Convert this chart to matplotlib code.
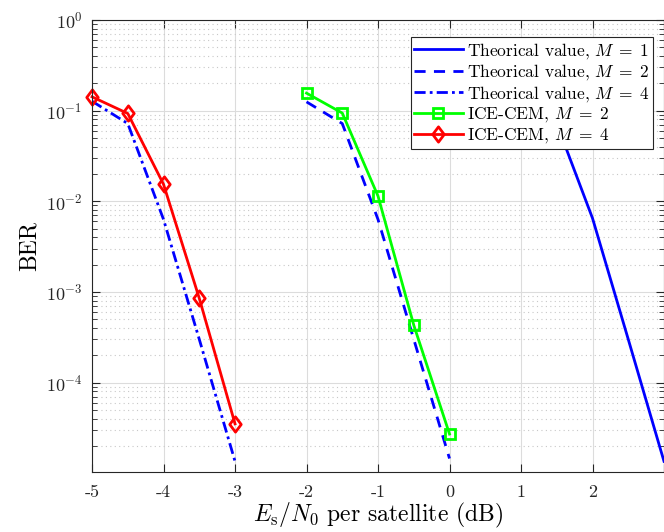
import numpy as np
import matplotlib
matplotlib.use("Agg")
import matplotlib.pyplot as plt
from matplotlib.path import Path
from matplotlib.ticker import LogLocator, NullFormatter

plt.rcParams["font.family"] = "serif"
plt.rcParams["font.serif"] = ["cmr10"]
plt.rcParams["mathtext.fontset"] = "cm"
plt.rcParams["axes.unicode_minus"] = False
plt.rcParams["axes.formatter.use_mathtext"] = True

# Es/N0 per satellite (dB) for each curve
snr_m1 = [1.0, 1.5, 2.0, 2.5, 3.0]
snr_m2 = [-2.0, -1.5, -1.0, -0.5, 0.0]
snr_m4 = [-5.0, -4.5, -4.0, -3.5, -3.0]

# theoretical BER curves
ber_theory_m1 = [0.125, 0.072, 0.0065, 3.0e-4, 1.35e-5]
ber_theory_m2 = [0.125, 0.072, 0.0063, 3.0e-4, 1.45e-5]
ber_theory_m4 = [0.127, 0.072, 0.0063, 3.0e-4, 1.35e-5]

# simulated BER, ICE-CEM
ber_ice_m2 = [0.156, 0.094, 0.0114, 4.3e-4, 2.7e-5]
ber_ice_m4 = [0.142, 0.093, 0.0154, 8.5e-4, 3.5e-5]

xticks = [-5, -4, -3, -2, -1, 0, 1, 2, 3]
xticklabels = ["-5", "-4", "-3", "-2", "-1", "0", "1", "2", ""]

# slightly tall diamond, like MATLAB's
diamond = Path([(0, 1), (0.75, 0), (0, -1), (-0.75, 0), (0, 1)],
               [Path.MOVETO, Path.LINETO, Path.LINETO, Path.LINETO, Path.CLOSEPOLY])

fig = plt.figure(figsize=(6.64, 5.32), dpi=100)
ax = fig.add_axes([0.1386, 0.1128, 0.8614, 0.8496])

lw = 2.0
ax.semilogy(snr_m1, ber_theory_m1, "-", color=(0, 0, 1), lw=lw,
            label=r"Theorical value, $M\;=\;1$")
ax.semilogy(snr_m2, ber_theory_m2, "--", color=(0, 0, 1), lw=lw,
            dashes=(4, 3), label=r"Theorical value, $M\;=\;2$")
ax.semilogy(snr_m4, ber_theory_m4, "-.", color=(0, 0, 1), lw=lw,
            dashes=(4, 1.5, 1, 1.5), label=r"Theorical value, $M\;=\;4$")
ax.semilogy(snr_m2, ber_ice_m2, "-", marker="s", color=(0, 1, 0), lw=lw,
            markersize=7, markerfacecolor="none", markeredgewidth=2,
            clip_on=False, label=r"ICE-CEM, $M\;=\;2$")
ax.semilogy(snr_m4, ber_ice_m4, "-", marker=diamond, color=(1, 0, 0), lw=lw,
            markersize=11, markerfacecolor="none", markeredgewidth=2,
            clip_on=False, label=r"ICE-CEM, $M\;=\;4$")

ax.set_xlim(-5, 3)
ax.set_ylim(1.03e-5, 1)
ax.set_xticks(xticks)
ax.set_xticklabels(xticklabels)
ax.yaxis.set_major_locator(LogLocator(base=10, numticks=10))
ax.yaxis.set_minor_locator(LogLocator(base=10, subs=np.arange(2, 10), numticks=10))
ax.yaxis.set_minor_formatter(NullFormatter())

ax.tick_params(which="both", direction="in", top=True, right=True,
               labelsize=13, colors="#262626")
ax.tick_params(which="major", length=6, width=0.8)
ax.tick_params(which="minor", length=3.5, width=0.6)
ax.tick_params(axis="x", which="both", pad=9)
ax.tick_params(axis="y", which="both", pad=7)
ax.tick_params(axis="x", which="minor", top=False, bottom=False)

ax.grid(True, which="major", color="#dcdcdc", linestyle="-", linewidth=0.8)
ax.grid(True, which="minor", axis="y", color="#c8c8c8", linestyle=(0, (1, 3)),
        linewidth=0.8)
for s in ax.spines.values():
    s.set_color("#262626")
    s.set_linewidth(0.8)

ax.set_xlabel(r"$E_\mathrm{s}/N_0$ per satellite (dB)", fontsize=17, labelpad=1)
ax.set_ylabel("BER", fontsize=17, labelpad=4)

leg = ax.legend(loc="upper right", fontsize=12.5, fancybox=False, framealpha=1,
                edgecolor="#262626", borderpad=0.2, labelspacing=0.1,
                handlelength=2.8, handletextpad=0.25, borderaxespad=0,
                bbox_to_anchor=(0.981, 0.962))
leg.get_frame().set_linewidth(0.8)
leg.set_zorder(5)

fig.savefig("out.png", dpi=100)
